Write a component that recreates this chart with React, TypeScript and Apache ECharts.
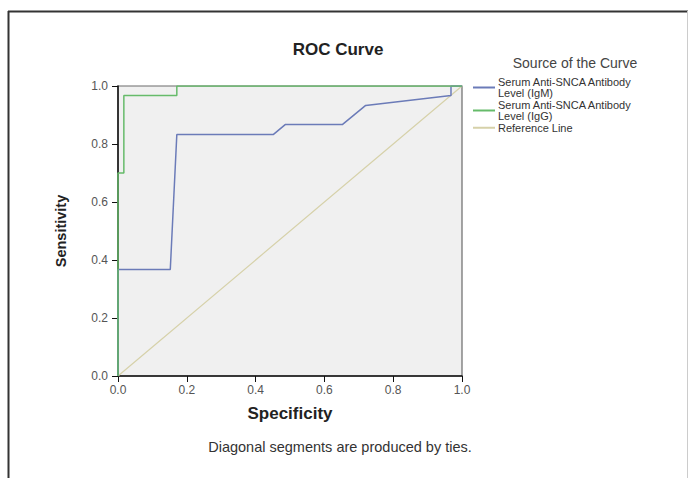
import React, { useEffect, useRef } from "react";
import * as echarts from "echarts";

const xTicks = [0, 0.2, 0.4, 0.6, 0.8, 1.0];
const igmCurve: [number, number][] = [
  [0, 0], [0, 0.367], [0.152, 0.367], [0.171, 0.833], [0.452, 0.833], [0.486, 0.867],
  [0.652, 0.867], [0.72, 0.933], [0.968, 0.967], [0.968, 1], [1, 1],
];
const iggCurve: [number, number][] = [
  [0, 0], [0, 0.7], [0.017, 0.7], [0.017, 0.967], [0.171, 0.967], [0.171, 1], [1, 1],
];
const referenceLine: [number, number][] = [[0, 0], [1, 1]];
const seriesNames = [
  "Serum Anti-SNCA Antibody\nLevel (IgM)",
  "Serum Anti-SNCA Antibody\nLevel (IgG)",
  "Reference Line",
];

export default function App() {
  const ref = useRef<HTMLDivElement>(null);
  useEffect(() => {
    const chart = echarts.init(ref.current!, null, { renderer: "svg" });
    const font = "Liberation Sans, Arial, sans-serif";
    chart.setOption({
      animation: false,
      backgroundColor: "#ffffff",
      textStyle: { fontFamily: font },
      grid: {
        left: 118, right: 226, top: 86, bottom: 102,
        show: true, backgroundColor: "#f0f0f0", borderColor: "#6a6a6a", borderWidth: 1.2,
      },
      legend: {
        orient: "vertical", left: 473, top: 76, padding: 0, itemWidth: 22, itemHeight: 2, itemGap: 0,
        icon: "rect", data: seriesNames,
        textStyle: { fontSize: 11, lineHeight: 11.5, color: "#333", fontFamily: font, padding: [0, 0, 0, -2] },
      },
      xAxis: {
        type: "value", min: 0, max: 1, interval: 0.2,
        name: "Specificity", nameLocation: "middle", nameGap: 29,
        nameTextStyle: { fontSize: 17, fontWeight: "bold", color: "#222" },
        axisLine: { lineStyle: { color: "#111", width: 1.5 } },
        axisTick: { show: true, inside: false, length: 6, lineStyle: { color: "#111" } },
        axisLabel: { fontSize: 12, color: "#555", margin: 8, formatter: (v: number) => v.toFixed(1) },
        splitLine: { show: false },
      },
      yAxis: {
        type: "value", min: 0, max: 1, interval: 0.2,
        name: "Sensitivity", nameLocation: "middle", nameGap: 50,
        nameTextStyle: { fontSize: 14.5, fontWeight: "bold", color: "#222" },
        axisLine: { show: true, lineStyle: { color: "#111", width: 1.5 } },
        axisTick: { show: true, inside: false, length: 6, lineStyle: { color: "#111" } },
        axisLabel: { fontSize: 12, color: "#555", margin: 10, formatter: (v: number) => v.toFixed(1) },
        splitLine: { show: false },
      },
      series: [
        {
          name: seriesNames[2], type: "line", data: referenceLine, symbol: "none",
          lineStyle: { color: "#d6d1a9", width: 1.2 }, itemStyle: { color: "#d6d1a9" },
        },
        {
          name: seriesNames[0], type: "line", data: igmCurve, symbol: "none",
          lineStyle: { color: "#6b7bb8", width: 1.5 }, itemStyle: { color: "#6b7bb8" },
        },
        {
          name: seriesNames[1], type: "line", data: iggCurve, symbol: "none",
          lineStyle: { color: "#66bb6a", width: 1.5 }, itemStyle: { color: "#66bb6a" },
        },
      ],
      graphic: [
        { type: "line", shape: { x1: 8.5, y1: 11, x2: 8.5, y2: 478 }, style: { stroke: "#333", lineWidth: 2 } },
        { type: "line", shape: { x1: 8, y1: 11.5, x2: 688, y2: 11.5 }, style: { stroke: "#333", lineWidth: 2 } },
        { type: "line", shape: { x1: 687.5, y1: 11, x2: 687.5, y2: 478 }, style: { stroke: "#ccc", lineWidth: 1 } },
        {
          type: "text", x: 338, y: 49,
          style: { text: "ROC Curve", fontSize: 17, fontWeight: "bold", fill: "#222", align: "center", verticalAlign: "middle", fontFamily: font },
        },
        {
          type: "text", x: 575, y: 63,
          style: { text: "Source of the Curve", fontSize: 14, fill: "#444", align: "center", verticalAlign: "middle", fontFamily: font },
        },
        {
          type: "text", x: 340, y: 447,
          style: { text: "Diagonal segments are produced by ties.", fontSize: 14.5, fill: "#333", align: "center", verticalAlign: "middle", fontFamily: font },
        },
      ],
    });
    return () => chart.dispose();
  }, []);
  return <div ref={ref} style={{ position: "fixed", left: 0, top: 0, width: 688, height: 478 }} />;
}
